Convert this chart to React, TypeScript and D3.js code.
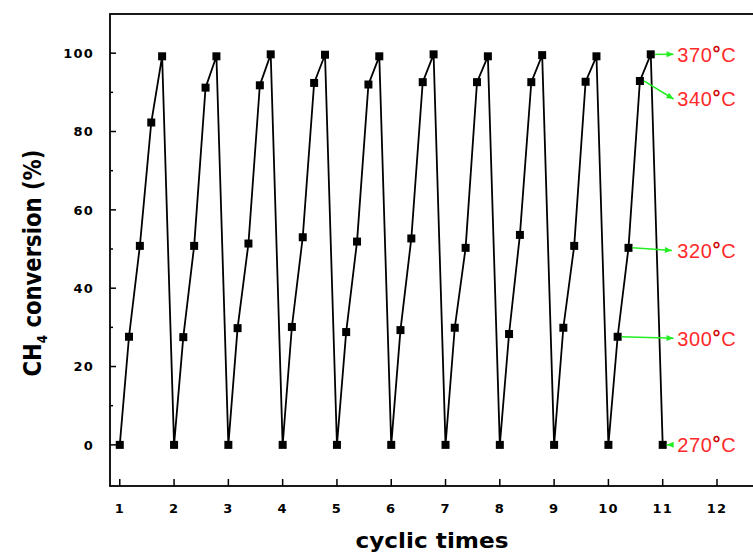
import React from "react";
import * as d3 from "d3";

// cycle start positions (x = cyclic times)
const cycles = [1, 2, 3, 4, 5, 6, 7, 8, 9, 10];
// x offset of each measurement within a cycle (270, 300, 320, 340, 370 °C)
const stepOffsets = [0, 0.17, 0.37, 0.58, 0.78];
// CH4 conversion (%) at each temperature, per cycle
const conv270 = [0, 0, 0, 0, 0, 0, 0, 0, 0, 0];
const conv300 = [27.6, 27.5, 29.8, 30.1, 28.8, 29.3, 29.9, 28.3, 29.9, 27.6];
const conv320 = [50.8, 50.8, 51.4, 53.0, 51.9, 52.7, 50.3, 53.6, 50.8, 50.3];
const conv340 = [82.3, 91.2, 91.8, 92.4, 92.0, 92.6, 92.6, 92.6, 92.7, 92.9];
const conv370 = [99.2, 99.2, 99.7, 99.6, 99.2, 99.7, 99.2, 99.5, 99.2, 99.7];
// final point
const finalX = 11;
const finalY = 0;

const xTicks = [1, 2, 3, 4, 5, 6, 7, 8, 9, 10, 11, 12];
const yTicks = [0, 20, 40, 60, 80, 100];
const yMinorTicks = [10, 30, 50, 70, 90];

// annotations: label, anchor (data), arrow end (data)
const annoLabels = ["370", "340", "320", "300", "270"];
const annoAnchorX = [10.78, 10.58, 10.37, 10.17, 11];
const annoAnchorY = [99.7, 92.9, 50.3, 27.6, 0];
const annoEndX = [11.2, 11.2, 11.17, 11.2, 11.07];
const annoEndY = [99.7, 88.3, 49.6, 27.2, 0];
const annoTextX = 11.27;

const W = 753;
const H = 553;

export default function App() {
  const x = d3.scaleLinear().domain([0.82, 12.7]).range([110, 755]);
  const y = d3.scaleLinear().domain([-10.5, 110]).range([486, 14]);

  const series = [conv270, conv300, conv320, conv340, conv370];
  const pts: [number, number][] = [];
  cycles.forEach((c, i) => {
    stepOffsets.forEach((o, j) => {
      pts.push([c + o, series[j][i]]);
    });
  });
  pts.push([finalX, finalY]);

  const line = d3
    .line<[number, number]>()
    .x((d) => x(d[0]))
    .y((d) => y(d[1]));

  const x0 = x.range()[0];
  const yb = y.range()[0];
  const yt = y.range()[1];
  const ms = 8;
  const green = "#22ee22";

  return (
    <svg
      width={W}
      height={H}
      style={{ position: "absolute", left: 0, top: 0, background: "#fff" }}
    >
      <rect x={0} y={0} width={W} height={H} fill="#fff" />
      {/* frame */}
      <rect
        x={x0}
        y={yt}
        width={700}
        height={yb - yt}
        fill="none"
        stroke="#000"
        strokeWidth={1.8}
      />
      {/* y ticks */}
      {yTicks.map((t) => (
        <g key={"yt" + t}>
          <line x1={x0} x2={x0 + 6} y1={y(t)} y2={y(t)} stroke="#000" strokeWidth={1.5} />
          <text
            x={x0 - 16}
            y={y(t)}
            dy="0.36em"
            textAnchor="end"
            fontFamily="DejaVu Sans"
            fontWeight="bold"
            fontSize={13}
            letterSpacing={1.2}
            fill="#000"
          >
            {t}
          </text>
        </g>
      ))}
      {yMinorTicks.map((t) => (
        <line key={"ym" + t} x1={x0} x2={x0 + 3} y1={y(t)} y2={y(t)} stroke="#000" strokeWidth={1.5} />
      ))}
      {/* x ticks */}
      {xTicks.map((t) => (
        <g key={"xt" + t}>
          <line x1={x(t)} x2={x(t)} y1={yb} y2={yb - 7} stroke="#000" strokeWidth={1.5} />
          <text
            x={x(t)}
            y={yb + 22}
            dy="0.36em"
            textAnchor="middle"
            fontFamily="DejaVu Sans"
            fontWeight="bold"
            fontSize={13}
            letterSpacing={1.2}
            fill="#000"
          >
            {t}
          </text>
        </g>
      ))}
      {/* axis labels */}
      <text
        x={432}
        y={548}
        textAnchor="middle"
        fontFamily="DejaVu Sans"
        fontWeight="bold"
        fontSize={22}
        textLength={153}
        lengthAdjust="spacingAndGlyphs"
        fill="#000"
      >
        cyclic times
      </text>
      <text
        transform={`translate(41,${263}) rotate(-90)`}
        textAnchor="middle"
        fontFamily="DejaVu Sans"
        fontWeight="bold"
        fontSize={25}
        textLength={227}
        lengthAdjust="spacingAndGlyphs"
        fill="#000"
      >
        CH<tspan fontSize={14} dy={6}>4</tspan>
        <tspan dy={-6}> conversion (%)</tspan>
      </text>
      {/* line */}
      <path d={line(pts) || ""} fill="none" stroke="#000" strokeWidth={1.8} />
      {/* markers */}
      {pts.map((p, i) => (
        <rect
          key={"m" + i}
          x={x(p[0]) - ms / 2}
          y={y(p[1]) - ms / 2}
          width={ms}
          height={ms}
          fill="#000"
        />
      ))}
      {/* annotations */}
      {annoLabels.map((lab, i) => {
        const ax = x(annoAnchorX[i]);
        const ay = y(annoAnchorY[i]);
        const ex = x(annoEndX[i]);
        const ey = y(annoEndY[i]);
        const pointLeft = i === 4;
        const sx = pointLeft ? ex + 4 : ax + ms / 2;
        const tx = pointLeft ? ax + ms / 2 : ex;
        const sy = pointLeft ? ey : ay;
        const ty = pointLeft ? ay : ey;
        const ang = Math.atan2(ty - sy, tx - sx);
        const hl = 7;
        const hw = 3;
        const bx = tx - hl * Math.cos(ang);
        const by = ty - hl * Math.sin(ang);
        const head = [
          [tx, ty],
          [bx - hw * Math.sin(ang), by + hw * Math.cos(ang)],
          [bx + hw * Math.sin(ang), by - hw * Math.cos(ang)],
        ]
          .map((q) => q.join(","))
          .join(" ");
        return (
          <g key={"a" + lab}>
            <line x1={sx} y1={sy} x2={tx} y2={ty} stroke={green} strokeWidth={1.5} />
            <polygon points={head} fill={green} />
            <text
              x={x(annoTextX)}
              y={ey}
              dy="0.36em"
              fontFamily="Liberation Sans"
              fontSize={20}
              letterSpacing={0.6}
              fill="#ff2a2a"
            >
              {lab}
              <tspan
                fill="#cc0000"
                fontWeight="bold"
                fontSize={20}
                dy={-2}
              >
                °
              </tspan>
              <tspan dy={2}>C</tspan>
            </text>
          </g>
        );
      })}
    </svg>
  );
}
